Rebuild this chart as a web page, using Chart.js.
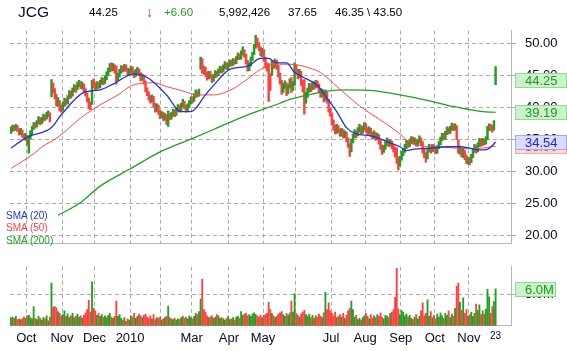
<!DOCTYPE html>
<html>
<head>
<meta charset="utf-8">
<title>JCG</title>
<script src="https://cdn.jsdelivr.net/npm/chart.js@4.4.0/dist/chart.umd.min.js"></script>
<style>
  html, body { margin: 0; padding: 0; background: #fff; }
  #wrap { position: relative; width: 567px; height: 351px; overflow: hidden; font-family: "Liberation Sans", Arial, sans-serif; }
  canvas { position: absolute; left: 0; }
  #price { top: 0; }
  #vol { top: 250px; }
  .hd { position: absolute; top: 5px; font-size: 11.5px; line-height: 14px; color: #000; white-space: nowrap; }
  .lg { position: absolute; left: 6px; font-size: 10px; line-height: 12px; white-space: nowrap; }
</style>
</head>
<body>
<div id="wrap">
  <canvas id="price" width="567" height="260"></canvas>
  <canvas id="vol" width="567" height="101"></canvas>
  <div class="hd" style="left:18px;top:3px;font-size:15.5px;line-height:18px;color:#120a30">JCG</div>
  <div class="hd" style="left:89px">44.25</div>
  <div class="hd" style="left:146px;top:3px;font-size:14px;line-height:18px;color:#ff2a2a">↓</div>
  <div class="hd" style="left:164px;color:#22a022">+6.60</div>
  <div class="hd" style="left:219px">5,992,426</div>
  <div class="hd" style="left:288px">37.65</div>
  <div class="hd" style="left:335px">46.35 \ 43.50</div>
  <div class="lg" style="top:210px;color:#2233dd">SMA (20)</div>
  <div class="lg" style="top:222px;color:#ff4040">SMA (50)</div>
  <div class="lg" style="top:235px;color:#22a022">SMA (200)</div>
</div>
<script>
// daily bars, index 0 = 17 Sep 2009, index 299 = 23 Nov 2010
const closes = [
  36.4, 36.9, 36.6, 37.0, 36.5, 35.9, 36.3, 35.6, 35.2, 35.5,
  34.6, 35.2, 35.9, 36.7, 37.3, 37.0, 37.6, 38.1, 37.6, 38.0,
  38.6, 38.3, 38.9, 39.0, 38.2, 43.5, 42.6, 41.8, 40.6, 40.9,
  39.8, 39.6, 40.4, 41.0, 40.6, 41.5, 42.2, 41.8, 42.7, 43.1,
  42.8, 43.6, 43.9, 43.2, 43.5, 42.7, 42.0, 41.1, 40.3, 40.0,
  43.9, 43.4, 43.0, 43.7, 43.2, 43.9, 44.3, 43.8, 44.6, 45.1,
  45.8, 46.4, 46.0, 46.5, 45.6, 44.3, 45.0, 45.6, 46.2, 45.8,
  46.4, 45.9, 45.3, 45.7, 46.1, 45.4, 45.0, 45.6, 45.9, 45.2,
  44.5, 44.9, 43.9, 42.8, 42.2, 41.5, 41.0, 41.6, 40.4, 39.6,
  40.2, 39.2, 38.6, 39.0, 38.2, 38.7, 37.6, 38.7, 38.3, 38.9,
  39.4, 38.8, 39.6, 40.1, 39.5, 40.3, 40.8, 40.0, 39.6, 40.2,
  40.7, 41.3, 41.0, 41.8, 42.3, 41.9, 42.4, 47.4, 45.9, 45.6,
  45.2, 44.6, 45.3, 44.9, 44.2, 44.8, 45.4, 45.0, 45.7, 46.1,
  45.6, 46.3, 46.8, 46.2, 46.6, 47.1, 46.7, 47.3, 47.0, 47.6,
  48.1, 47.7, 48.4, 48.9, 48.2, 47.1, 46.0, 46.6, 47.5, 48.3,
  49.4, 50.6, 49.8, 49.2, 48.4, 48.8, 47.6, 46.5, 46.0, 44.2,
  43.3, 46.8, 46.4, 47.1, 46.3, 45.1, 44.0, 42.6, 43.3, 43.6,
  42.3, 43.2, 44.0, 42.8, 43.6, 46.4, 45.6, 44.8, 45.5, 43.8,
  42.9, 40.9, 41.8, 42.6, 43.3, 42.8, 43.6, 43.1, 43.9, 43.4,
  42.6, 41.9, 42.4, 41.2, 42.1, 41.0, 39.6, 39.0, 37.6, 36.8,
  36.2, 36.9, 36.3, 35.8, 36.4, 35.6, 35.9, 35.0, 34.1, 33.2,
  34.6, 35.4, 36.1, 35.6, 36.4, 36.9, 36.2, 36.7, 37.2, 36.5,
  36.0, 36.6, 35.8, 35.4, 35.9, 35.2, 35.6, 34.6, 33.8, 33.2,
  33.7, 34.3, 34.8, 34.1, 34.6, 33.9, 33.4, 32.6, 31.9, 31.0,
  31.9, 32.7, 33.1, 33.8, 34.4, 34.0, 34.7, 35.0, 34.5, 34.9,
  34.2, 34.6, 35.1, 34.4, 33.2, 32.6, 32.1, 33.3, 33.8, 33.2,
  33.9, 33.4, 33.0, 33.7, 34.3, 34.9, 35.6, 35.2, 35.9, 36.5,
  36.1, 36.7, 37.1, 36.6, 37.0, 35.2, 33.2, 33.5, 32.6, 33.1,
  32.2, 31.6, 31.9, 31.4, 32.3, 33.1, 33.8, 33.2, 34.0, 34.7,
  34.2, 34.8, 34.4, 35.0, 36.6, 37.0, 36.8, 36.5, 37.65, 44.25
];
const highs = [
  36.9, 37.2, 37.1, 37.3, 37.1, 36.6, 36.7, 36.4, 35.8, 35.9,
  35.6, 35.5, 36.3, 37.0, 37.6, 37.6, 37.9, 38.5, 38.3, 38.4,
  38.9, 38.8, 39.2, 39.4, 39.1, 44.3, 43.8, 42.9, 42.0, 41.5,
  41.0, 40.3, 40.7, 41.4, 41.3, 41.8, 42.6, 42.5, 43.0, 43.5,
  43.4, 43.9, 44.2, 44.0, 43.9, 43.6, 42.9, 42.2, 41.4, 40.8,
  44.2, 44.4, 43.8, 44.0, 43.9, 44.2, 44.6, 44.5, 44.9, 45.5,
  46.1, 46.8, 46.9, 46.8, 46.6, 46.4, 45.3, 45.9, 46.5, 46.4,
  46.7, 46.6, 46.1, 46.0, 46.4, 46.3, 45.7, 45.9, 46.2, 46.0,
  45.4, 45.2, 45.0, 44.1, 43.0, 42.4, 41.8, 41.9, 41.7, 40.6,
  40.5, 40.3, 39.5, 39.3, 39.2, 39.0, 38.8, 39.4, 39.0, 39.2,
  39.7, 39.6, 39.9, 40.4, 40.3, 40.6, 41.2, 40.9, 40.3, 40.5,
  41.0, 41.6, 41.6, 42.1, 42.7, 42.5, 42.8, 47.8, 47.6, 46.4,
  46.2, 45.5, 45.6, 45.6, 45.1, 45.1, 45.7, 45.6, 46.0, 46.4,
  46.3, 46.6, 47.1, 46.9, 46.9, 47.4, 47.3, 47.6, 47.5, 47.9,
  48.5, 48.3, 48.8, 49.4, 49.0, 48.3, 47.3, 46.9, 47.8, 48.6,
  49.8, 51.2, 50.8, 50.1, 49.4, 49.2, 49.0, 47.8, 46.9, 46.8,
  45.2, 47.3, 47.2, 47.5, 47.3, 46.5, 45.3, 44.2, 43.7, 44.1,
  43.8, 43.5, 44.4, 44.6, 44.0, 46.9, 46.6, 45.9, 45.9, 45.6,
  44.2, 44.3, 42.3, 43.0, 43.7, 43.6, 44.0, 43.9, 44.2, 44.1,
  43.6, 42.9, 42.8, 42.6, 42.7, 42.3, 41.2, 39.9, 39.1, 38.0,
  37.2, 37.3, 37.1, 36.6, 36.7, 36.5, 36.3, 36.1, 35.2, 34.3,
  35.0, 35.8, 36.5, 36.3, 36.8, 37.3, 37.1, 37.0, 37.6, 37.4,
  36.8, 36.9, 36.7, 36.1, 36.3, 36.0, 35.9, 35.7, 34.9, 34.1,
  34.0, 34.6, 35.2, 35.0, 34.9, 34.7, 34.2, 33.7, 33.6, 32.2,
  32.3, 33.1, 33.5, 34.2, 34.8, 34.7, 35.0, 35.4, 35.3, 35.2,
  35.0, 34.9, 35.5, 35.2, 34.6, 33.5, 32.9, 33.6, 34.2, 34.0,
  34.2, 34.1, 33.7, 34.0, 34.6, 35.3, 35.9, 35.9, 36.2, 36.9,
  36.8, 37.0, 37.5, 37.4, 37.4, 37.1, 34.8, 33.9, 33.6, 33.5,
  33.2, 32.5, 32.2, 32.1, 32.6, 33.4, 34.2, 34.0, 34.4, 35.1,
  35.0, 35.1, 35.0, 35.4, 37.0, 37.4, 37.3, 37.1, 37.9, 46.35
];
const lows = [
  35.9, 36.2, 36.3, 36.4, 36.2, 35.6, 35.7, 35.3, 34.9, 34.8,
  34.0, 32.8, 35.0, 35.7, 36.5, 36.7, 36.9, 37.4, 37.2, 37.4,
  37.8, 37.9, 38.1, 38.5, 37.7, 41.6, 42.2, 41.3, 40.2, 40.1,
  39.4, 39.2, 39.5, 40.1, 40.3, 40.5, 41.3, 41.4, 41.7, 42.4,
  42.3, 42.7, 43.2, 42.9, 42.8, 42.3, 41.7, 40.8, 39.7, 39.6,
  40.4, 43.0, 42.6, 42.8, 42.9, 43.0, 43.6, 43.5, 43.7, 44.3,
  44.9, 45.5, 45.6, 45.7, 45.3, 43.6, 44.1, 44.7, 45.3, 45.5,
  45.6, 45.6, 44.9, 45.0, 45.4, 45.1, 44.6, 44.8, 45.3, 44.9,
  44.1, 44.2, 43.6, 42.4, 41.8, 41.1, 40.6, 40.8, 40.0, 39.2,
  39.3, 38.9, 38.2, 38.3, 37.9, 37.9, 37.3, 37.0, 38.0, 38.1,
  38.6, 38.5, 38.7, 39.3, 39.2, 39.4, 40.0, 39.7, 39.2, 39.4,
  39.9, 40.5, 40.6, 40.9, 41.5, 41.6, 41.7, 45.9, 45.3, 45.1,
  44.8, 44.2, 44.4, 44.5, 43.8, 44.0, 44.6, 44.7, 44.9, 45.4,
  45.3, 45.5, 46.0, 45.9, 45.9, 46.4, 46.4, 46.5, 46.7, 46.8,
  47.4, 47.4, 47.5, 48.1, 47.8, 46.7, 45.6, 45.7, 46.4, 47.3,
  48.2, 49.2, 49.4, 48.8, 48.0, 47.9, 47.2, 46.1, 45.6, 40.9,
  42.6, 45.0, 46.0, 46.2, 45.9, 44.7, 43.6, 42.0, 42.3, 42.9,
  41.8, 42.1, 43.0, 42.3, 42.6, 43.4, 45.2, 44.4, 44.6, 43.4,
  42.4, 38.9, 40.6, 41.5, 42.3, 42.4, 42.7, 42.8, 43.0, 43.0,
  42.2, 41.5, 41.6, 40.8, 41.0, 40.6, 39.2, 38.6, 37.2, 36.4,
  35.8, 35.9, 36.0, 35.4, 35.5, 35.2, 35.2, 34.6, 33.7, 32.3,
  33.0, 34.4, 35.2, 35.2, 35.5, 36.1, 35.8, 35.9, 36.4, 36.1,
  35.6, 35.8, 35.4, 35.0, 35.1, 34.8, 34.9, 34.2, 33.4, 32.6,
  32.9, 33.4, 34.0, 33.8, 33.9, 33.5, 33.0, 32.2, 31.2, 30.2,
  30.8, 31.7, 32.4, 32.9, 33.5, 33.7, 33.8, 34.3, 34.2, 34.2,
  33.9, 33.9, 34.4, 34.0, 32.8, 32.1, 31.4, 31.9, 33.0, 32.8,
  33.0, 33.1, 32.7, 32.8, 33.5, 34.1, 34.7, 34.9, 35.0, 35.7,
  35.8, 35.9, 36.4, 36.3, 36.4, 34.9, 32.8, 32.6, 32.2, 32.1,
  31.8, 31.2, 31.1, 31.0, 31.3, 32.1, 32.9, 32.8, 33.0, 33.8,
  33.9, 34.0, 34.1, 34.2, 34.9, 36.3, 36.4, 36.1, 36.4, 43.5
];
// volume in millions
const volumes = [
  1.3, 1.4, 1.2, 1.5, 1.0, 1.1, 1.0, 1.1, 1.4, 1.2,
  1.6, 1.7, 1.3, 1.1, 3.1, 1.2, 1.0, 1.5, 1.2, 0.9,
  1.3, 1.1, 1.6, 0.8, 1.4, 6.9, 3.0, 3.1, 2.9, 2.3,
  2.0, 1.6, 1.8, 2.4, 1.5, 1.9, 1.3, 1.6, 2.0, 1.3,
  1.5, 1.9, 1.4, 1.6, 1.2, 1.7, 2.1, 2.6, 4.1, 2.2,
  7.1, 2.8, 2.4, 1.7, 2.0, 1.5, 1.8, 1.4, 1.6, 1.3,
  1.7, 2.0, 1.4, 1.2, 1.5, 4.0, 1.5, 1.8, 1.2, 0.9,
  1.3, 0.7, 1.1, 0.9, 1.6, 1.4, 2.0, 1.2, 1.5, 1.9,
  1.6, 1.3, 1.7, 1.9, 1.4, 1.2, 1.6, 1.1, 1.8, 1.0,
  1.3, 1.2, 1.4, 0.9, 1.1, 1.3, 1.5, 3.2, 1.3, 1.1,
  1.0, 1.2, 0.9, 1.1, 1.0, 1.3, 1.5, 1.2, 1.4, 1.1,
  1.6, 1.3, 1.1, 1.5, 2.0, 1.8, 2.3, 4.3, 7.5, 2.6,
  2.2, 1.6, 1.3, 1.4, 1.6, 1.2, 1.4, 1.8, 1.6, 1.2,
  1.3, 1.1, 0.9, 1.2, 1.5, 1.0, 1.1, 1.3, 0.9, 1.4,
  1.5, 1.2, 2.3, 1.7, 1.9, 2.0, 1.6, 1.8, 1.5, 1.9,
  2.1, 1.8, 1.6, 1.4, 1.7, 1.3, 1.7, 1.8, 2.0, 3.8,
  2.6, 2.0, 1.6, 1.3, 1.5, 1.9, 2.1, 2.3, 1.8, 1.5,
  2.0, 1.7, 2.1, 4.0, 2.2, 5.2, 2.0, 1.7, 1.4, 1.9,
  2.2, 2.5, 1.8, 1.5, 1.9, 1.3, 1.7, 1.2, 1.6, 1.4,
  1.9, 1.5, 1.3, 2.1, 5.4, 2.6, 3.7, 2.4, 2.0, 1.6,
  2.2, 1.3, 1.5, 1.8, 1.4, 2.0, 1.2, 1.7, 2.4, 2.8,
  4.0, 2.6, 1.4, 1.7, 1.0, 1.2, 0.9, 1.3, 1.6, 2.0,
  1.5, 1.1, 1.8, 1.2, 1.6, 1.3, 1.8, 1.5, 2.1, 1.4,
  1.1, 1.7, 1.5, 1.3, 2.0, 2.2, 2.6, 4.6, 9.3, 2.7,
  1.8, 2.5, 2.2, 1.6, 1.9, 1.4, 1.7, 1.2, 1.0, 1.4,
  1.8, 1.1, 1.5, 2.4, 3.7, 1.6, 2.0, 4.2, 1.5, 2.3,
  1.3, 1.7, 1.1, 1.9, 1.4, 2.1, 1.6, 1.2, 2.0, 1.7,
  2.4, 1.3, 1.9, 1.5, 2.8, 6.4, 6.9, 3.8, 2.5, 4.5,
  2.0, 2.6, 1.5, 1.8, 2.2, 1.5, 2.0, 3.5, 2.5, 3.4,
  1.8, 2.4, 1.9, 2.7, 5.9, 4.7, 2.0, 3.1, 3.9, 5.99
];

// moving averages at these bar indexes
const sma20At = [0, 10, 25, 31, 45, 55, 63, 76, 82, 88, 96, 105, 111, 114, 119, 125, 135, 146, 154, 159, 164, 170, 175, 180, 189, 195, 201, 207, 213, 222, 236, 240, 244, 248, 259, 269, 277, 283, 289, 294, 297, 299];
const sma20 = [33.6, 35.3, 36.8, 38.8, 42.3, 42.7, 43.6, 45.2, 44.9, 43.9, 41.9, 39.3, 39.3, 39.8, 41.6, 43.4, 45.9, 46.4, 47.6, 47.6, 46.9, 46.9, 45.4, 44.7, 43.4, 41.4, 39.3, 36.8, 35.8, 35.5, 34.2, 33.8, 33.2, 33.4, 33.6, 33.8, 33.8, 33.6, 33.3, 33.4, 34.0, 34.54];
const sma50At = [0, 14, 19, 29, 43, 55, 66, 74, 80, 88, 96, 105, 115, 125, 135, 146, 154, 162, 172, 183, 191, 199, 207, 215, 223, 232, 240, 246, 252, 266, 283, 291, 299];
const sma50 = [30.4, 32.7, 33.75, 35.3, 38.3, 40.35, 41.9, 43.3, 43.7, 43.8, 43.2, 42.6, 41.9, 41.9, 42.6, 44.4, 45.9, 46.7, 46.7, 46.2, 45.4, 43.7, 41.9, 40.2, 38.8, 37.3, 35.8, 34.5, 34.0, 33.75, 33.5, 33.6, 33.9];
const sma200At = [29, 43, 55, 74, 92, 111, 125, 146, 166, 172, 187, 195, 207, 222, 240, 256, 273, 283, 293, 299];
const sma200 = [23.1, 25.1, 27.65, 30.4, 33.0, 35.0, 36.5, 38.8, 40.6, 41.2, 42.1, 42.5, 42.7, 42.6, 41.9, 41.1, 40.1, 39.6, 39.25, 39.19];

const priceTicks = [20, 25, 30, 35, 40, 45, 50];
const volTicks = [5];
const monthStarts = [10, 32, 52, 74, 93, 112, 135, 156, 176, 198, 219, 241, 262, 283];
const monthLabels = ['Oct', 'Nov', 'Dec', '2010', '', 'Mar', 'Apr', 'May', '', 'Jul', 'Aug', 'Sep', 'Oct', 'Nov'];
const lastLabel = '23';

const UP = '#22a022';
const DOWN = '#ff4040';
const GRID = '#acacac';
const EDGE = '#b8b8b8';
const INK = '#0a0a2a';
const FONT = '"Liberation Sans", Arial, sans-serif';
const last = closes.length - 1;

Chart.defaults.font.family = FONT;

const barColors = closes.map((c, i) => (i === 0 || c >= closes[i - 1]) ? UP : DOWN);
const pairs = (at, vals) => at.map((x, i) => ({ x: x, y: vals[i] }));

// coloured value boxes on the right edge
const tagPlugin = {
    id: 'tags',
    afterDraw(chart, args, opts) {
        const ctx = chart.ctx;
        const y = chart.scales.y;
        const left = chart.chartArea.right + 4;
        ctx.save();
        opts.items.forEach(t => {
            const py = Math.round(y.getPixelForValue(t.value));
            ctx.fillStyle = t.fill;
            ctx.fillRect(left, py - 7, t.w, 15);
            ctx.strokeStyle = t.stroke;
            ctx.lineWidth = 1;
            ctx.strokeRect(left + 0.5, py - 6.5, t.w - 1, 14);
            ctx.fillStyle = t.color;
            ctx.font = '13px ' + FONT;
            ctx.textBaseline = 'middle';
            ctx.fillText(t.text, left + 10, py + 1);
        });
        ctx.restore();
    }
};

function xAxis(withLabels) {
    return {
        type: 'linear',
        min: -0.6,
        max: 308.5,
        offset: false,
        afterBuildTicks: s => {
            const t = monthStarts.map(m => ({ value: m - 0.5 }));
            if (withLabels) t.push({ value: last });
            s.ticks = t;
        },
        afterFit: s => { s.height = withLabels ? 25.3 : 11.7; },
        grid: {
            offset: false,
            drawTicks: false,
            lineWidth: 1,
            color: c => (c.tick && c.tick.value === last) ? 'rgba(0,0,0,0)' : GRID
        },
        border: { display: true, color: EDGE, dash: [4, 3] },
        ticks: {
            display: withLabels,
            autoSkip: false,
            maxRotation: 0,
            padding: 5,
            color: INK,
            font: c => ({ size: (c.tick && c.tick.value === last) ? 10 : 13 }),
            callback: v => {
                const k = monthStarts.indexOf(v + 0.5);
                if (k >= 0) return monthLabels[k];
                return v === last ? lastLabel : '';
            }
        }
    };
}

function yAxis(min, max, ticks, fmt) {
    return {
        position: 'right',
        min: min,
        max: max,
        afterFit: s => { s.width = 56; },
        afterBuildTicks: s => { s.ticks = ticks.map(v => ({ value: v })); },
        grid: { color: GRID, lineWidth: 1, drawTicks: true, tickLength: 5, tickBorderDash: [4, 3] },
        border: { display: true, color: EDGE, dash: [4, 3] },
        ticks: { padding: 9, color: INK, font: { size: 13 }, callback: fmt }
    };
}

document.addEventListener('DOMContentLoaded', () => {
    const line = (label, data, color, width) => ({
        type: 'line',
        label: label,
        data: data,
        borderColor: color,
        borderWidth: width,
        pointRadius: 0,
        cubicInterpolationMode: 'monotone',
        order: 0
    });

    new Chart(document.getElementById('price').getContext('2d'), {
        type: 'bar',
        data: {
            datasets: [
                line('SMA (20)', pairs(sma20At, sma20), '#2233dd', 1.3),
                line('SMA (50)', pairs(sma50At, sma50), '#ff4848', 1),
                line('SMA (200)', pairs(sma200At, sma200), '#22a022', 1.3),
                {
                    label: 'JCG',
                    data: closes.map((c, i) => ({ x: i, y: [lows[i], highs[i]] })),
                    backgroundColor: barColors,
                    barThickness: 1.8,
                    borderWidth: 0,
                    order: 1
                }
            ]
        },
        options: {
            responsive: false,
            animation: false,
            devicePixelRatio: 1,
            events: [],
            layout: { padding: { top: 30.7, left: 10, right: 0, bottom: 0 } },
            scales: {
                x: xAxis(false),
                y: yAxis(18.73, 51.94, priceTicks, v => v.toFixed(2))
            },
            plugins: {
                legend: { display: false },
                tooltip: { enabled: false },
                tags: {
                    items: [
                        { value: closes[last], text: closes[last].toFixed(2), fill: '#ccf2cc', stroke: '#94d894', color: '#1f9a1f', w: 52 },
                        { value: sma200[sma200.length - 1], text: sma200[sma200.length - 1].toFixed(2), fill: '#ccf2cc', stroke: '#94d894', color: '#1f9a1f', w: 52 },
                        { value: sma50[sma50.length - 1], text: sma50[sma50.length - 1].toFixed(2), fill: '#ffdede', stroke: '#ffa4a4', color: '#ff4040', w: 52 },
                        { value: sma20[sma20.length - 1], text: sma20[sma20.length - 1].toFixed(2), fill: '#dcdcff', stroke: '#a4a4ff', color: '#2222dd', w: 52 }
                    ]
                }
            }
        },
        plugins: [tagPlugin]
    });

    new Chart(document.getElementById('vol').getContext('2d'), {
        type: 'bar',
        data: {
            datasets: [{
                label: 'Volume',
                data: volumes.map((v, i) => ({ x: i, y: v })),
                backgroundColor: barColors,
                barThickness: 1.2,
                borderWidth: 0
            }]
        },
        options: {
            responsive: false,
            animation: false,
            devicePixelRatio: 1,
            events: [],
            layout: { padding: { top: 10, left: 10, right: 0, bottom: 0 } },
            scales: {
                x: xAxis(true),
                y: yAxis(0, 9.55, volTicks, v => v.toFixed(1) + 'M')
            },
            plugins: {
                legend: { display: false },
                tooltip: { enabled: false },
                tags: {
                    items: [
                        { value: volumes[last], text: volumes[last].toFixed(1) + 'M', fill: '#ccf2cc', stroke: '#94d894', color: '#1f9a1f', w: 41 }
                    ]
                }
            }
        },
        plugins: [tagPlugin]
    });
});
</script>
</body>
</html>
